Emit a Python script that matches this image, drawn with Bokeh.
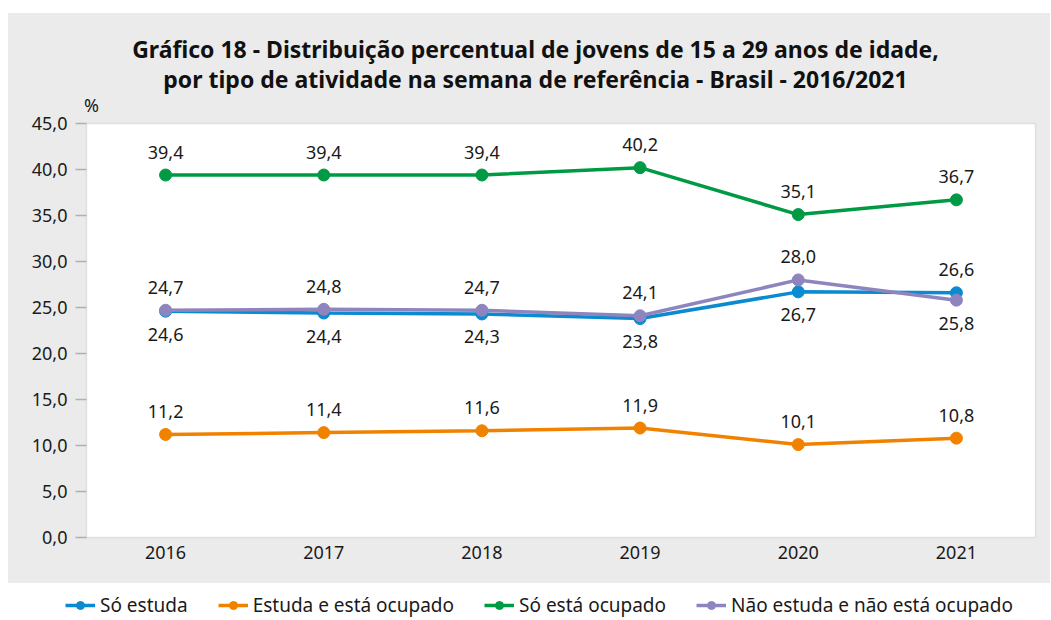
from bokeh.plotting import figure
from bokeh.models import (Range1d, FixedTicker, Legend, LegendItem, ColumnDataSource,
                          BoxAnnotation, Label)
from bokeh.core.properties import value
from bokeh.embed import file_html
from bokeh.resources import INLINE

years = [2016, 2017, 2018, 2019, 2020, 2021]
so_estuda = [24.6, 24.4, 24.3, 23.8, 26.7, 26.6]
estuda_ocupado = [11.2, 11.4, 11.6, 11.9, 10.1, 10.8]
so_ocupado = [39.4, 39.4, 39.4, 40.2, 35.1, 36.7]
nao_estuda = [24.7, 24.8, 24.7, 24.1, 28.0, 25.8]
y_ticks = [0, 5, 10, 15, 20, 25, 30, 35, 40, 45]

series_names = ["Só estuda", "Estuda e está ocupado", "Só está ocupado",
                "Não estuda e não está ocupado"]
series_values = [so_estuda, estuda_ocupado, so_ocupado, nao_estuda]
series_colors = ["#0a8ad0", "#f08200", "#009a44", "#8f85be"]
label_sides = [
    ["below", "below", "below", "below", "below", "above"],
    ["above"] * 6,
    ["above"] * 6,
    ["above", "above", "above", "above", "above", "below"],
]
title1 = "Gráfico 18 - Distribuição percentual de jovens de 15 a 29 anos de idade,"
title2 = "por tipo de atividade na semana de referência - Brasil - 2016/2021"

BG = "#ebebeb"
FONT = "Noto Sans"
TXT = "#1a1a1a"
AX = "#b0b0b0"

# page layout in pixels
W, H = 1050, 619
BOX_L, BOX_R, BOX_T, BOX_B = 86, 1035, 123, 537
x0, x1 = years[0] - 0.5, years[-1] + 0.5
y0, y1 = y_ticks[0], y_ticks[-1]
ux = (x1 - x0) / (BOX_R - BOX_L)
uy = (y1 - y0) / (BOX_B - BOX_T)
x_range = Range1d(x0 - BOX_L * ux, x1 + (W - BOX_R) * ux)
y_range = Range1d(y0 - (H - BOX_B) * uy, y1 + BOX_T * uy)

css_bg = (f"linear-gradient(to right, white 0px, white 8px, transparent 8px), "
          f"linear-gradient(to bottom, white 0px, white 13px, {BG} 13px, {BG} 583px, "
          f"white 583px, white 100%)")

p = figure(width=W, height=H, x_range=x_range, y_range=y_range,
           output_backend="svg", toolbar_location=None, min_border=0,
           styles={"background": css_bg})
p.border_fill_color = None
p.background_fill_color = None
p.outline_line_color = None
p.xgrid.grid_line_color = None
p.ygrid.grid_line_color = None

box = BoxAnnotation(left=x0, right=x1, bottom=y0, top=y1, fill_color="white", fill_alpha=1,
                    line_color=AX, line_width=1.5, level="underlay")
p.add_layout(box)

p.yaxis.fixed_location = x0
p.yaxis.ticker = FixedTicker(ticks=y_ticks)
p.yaxis.major_label_overrides = {t: f"{t:.1f}".replace(".", ",") for t in y_ticks}
p.yaxis.axis_line_color = None
p.yaxis.major_tick_line_color = AX
p.yaxis.major_tick_line_width = 1.5
p.yaxis.major_tick_out = 11
p.yaxis.major_tick_in = 0
p.yaxis.minor_tick_line_color = None
p.yaxis.major_label_standoff = 8
p.yaxis.major_label_text_font = FONT
p.yaxis.major_label_text_font_size = "18px"
p.yaxis.major_label_text_color = TXT

p.xaxis.fixed_location = y0
p.xaxis.ticker = FixedTicker(ticks=years)
p.xaxis.major_label_overrides = {y: str(y) for y in years}
p.xaxis.axis_line_color = None
p.xaxis.major_tick_line_color = None
p.xaxis.minor_tick_line_color = None
p.xaxis.major_tick_out = 0
p.xaxis.major_tick_in = 0
p.xaxis.major_label_standoff = 8
p.xaxis.major_label_text_font = FONT
p.xaxis.major_label_text_font_size = "18px"
p.xaxis.major_label_text_color = TXT

items = []
for name, vals, color, sides in zip(series_names, series_values, series_colors, label_sides):
    src = ColumnDataSource(dict(
        x=years, y=vals,
        txt=[f"{v:.1f}".replace(".", ",") for v in vals],
        off=[-23 if s == "above" else 23 for s in sides],
    ))
    r1 = p.line("x", "y", source=src, line_color=color, line_width=3.5)
    r2 = p.scatter("x", "y", source=src, size=12, fill_color=color, line_color=color)
    p.text("x", "y", text="txt", source=src, y_offset="off", text_align="center",
           text_baseline="middle", text_font=value(FONT), text_font_size="18px",
           text_color=TXT)
    items.append(LegendItem(label=name, renderers=[r1, r2]))

for t, ty in [(title1, H - 48), (title2, H - 78)]:
    p.add_layout(Label(x=535, y=ty, x_units="screen", y_units="screen", text=t,
                       text_align="center", text_baseline="middle", text_font=FONT,
                       text_font_style="bold", text_font_size="23px", text_color="#111111"))
p.add_layout(Label(x=91, y=H - 104, x_units="screen", y_units="screen", text="%",
                   text_align="center", text_baseline="middle", text_font=FONT,
                   text_font_size="18px", text_color=TXT))

legend = Legend(items=items, orientation="horizontal", location=(65, 1),
                label_text_font=FONT, label_text_font_size="19px", label_text_color=TXT,
                glyph_width=30, glyph_height=20, label_standoff=5, spacing=30,
                padding=0, margin=0, border_line_color=None, background_fill_alpha=0)
p.add_layout(legend)

open("out.html", "w").write(file_html(p, INLINE))
